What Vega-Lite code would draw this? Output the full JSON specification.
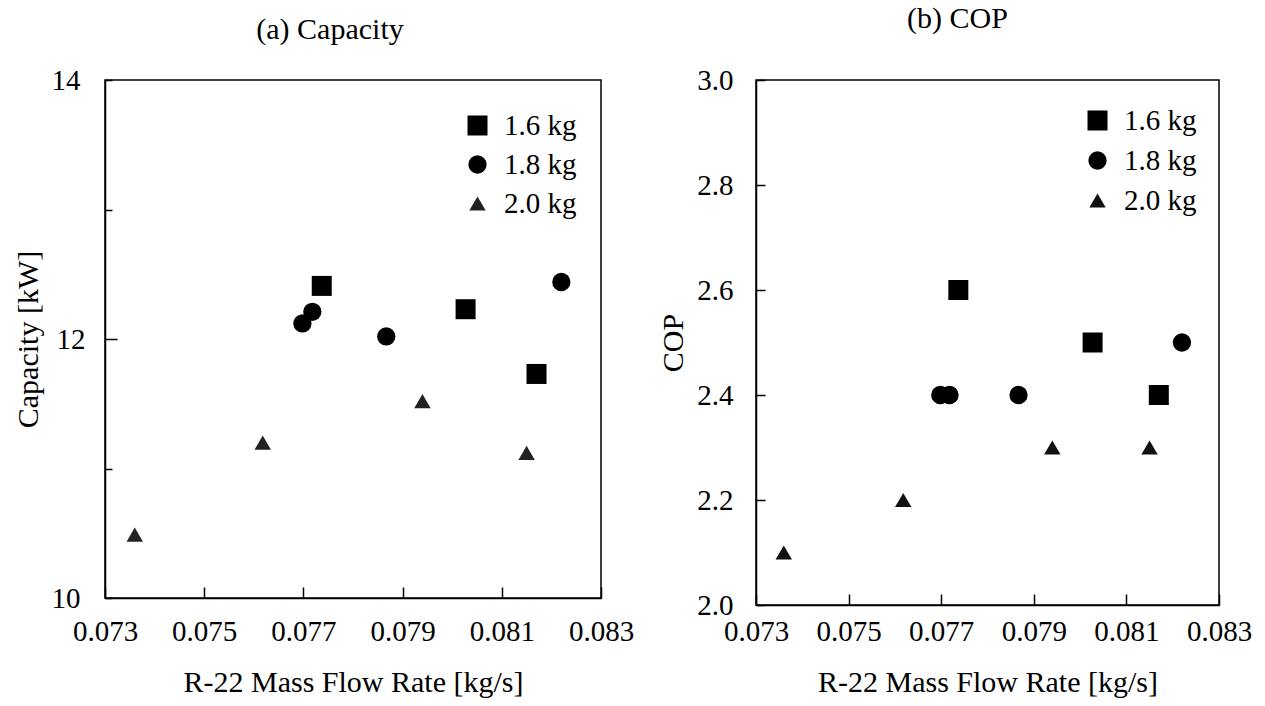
{
  "$schema": "https://vega.github.io/schema/vega-lite/v6.json",
  "padding": {"left": 12, "top": 3, "right": 5, "bottom": 5},
  "background": "white",
  "config": {
    "font": "Liberation Serif",
    "view": {"stroke": "black", "strokeWidth": 1.5},
    "axis": {
      "domainColor": "black", "domainWidth": 1.5,
      "tickColor": "black", "tickWidth": 1.5, "tickSize": -11,
      "labelColor": "black", "titleColor": "black",
      "labelFont": "Liberation Serif", "titleFont": "Liberation Serif",
      "labelFontSize": 29, "titleFontSize": 30, "titleFontWeight": "normal",
      "grid": false, "labelFlush": false, "labelOverlap": false
    },
    "title": {"font": "Liberation Serif", "fontSize": 30, "fontWeight": "normal", "color": "black", "frame": "group"},
    "legend": {
      "labelFont": "Liberation Serif", "labelFontSize": 29, "labelColor": "black",
      "labelOffset": 12, "symbolStrokeWidth": 0, "title": null
    }
  },
  "datasets": {
    "d": [
      {"charge": "1.6 kg", "flow": 0.07737, "capacity": 12.41, "cop": 2.6},
      {"charge": "1.6 kg", "flow": 0.08027, "capacity": 12.23, "cop": 2.5},
      {"charge": "1.6 kg", "flow": 0.0817, "capacity": 11.73, "cop": 2.4},
      {"charge": "1.8 kg", "flow": 0.07698, "capacity": 12.12, "cop": 2.4},
      {"charge": "1.8 kg", "flow": 0.07718, "capacity": 12.21, "cop": 2.4},
      {"charge": "1.8 kg", "flow": 0.07867, "capacity": 12.02, "cop": 2.4},
      {"charge": "1.8 kg", "flow": 0.0822, "capacity": 12.44, "cop": 2.5},
      {"charge": "2.0 kg", "flow": 0.0736, "capacity": 10.49, "cop": 2.1},
      {"charge": "2.0 kg", "flow": 0.07618, "capacity": 11.2, "cop": 2.2},
      {"charge": "2.0 kg", "flow": 0.0794, "capacity": 11.52, "cop": 2.3},
      {"charge": "2.0 kg", "flow": 0.0815, "capacity": 11.12, "cop": 2.3}
    ]
  },
  "spacing": 23,
  "resolve": {"scale": {"color": "independent", "shape": "independent", "size": "independent"}},
  "hconcat": [
    {
      "width": 496, "height": 518,
      "title": {"text": "(a) Capacity", "dx": -23, "offset": 21},
      "data": {"name": "d"},
      "mark": {"type": "point", "filled": true, "opacity": 1, "strokeWidth": 0},
      "encoding": {
        "x": {"field": "flow", "type": "quantitative",
          "scale": {"domain": [0.073, 0.083], "nice": false, "zero": false},
          "axis": {"values": [0.073, 0.075, 0.077, 0.079, 0.081, 0.083], "format": ".3f", "title": "R-22 Mass Flow Rate [kg/s]", "labelPadding": 30, "titlePadding": 21}},
        "y": {"field": "capacity", "type": "quantitative",
          "scale": {"domain": [10, 14], "nice": false, "zero": false},
          "axis": {"values": [10, 11, 12, 13, 14], "labelExpr": "datum.value % 2 === 0 ? datum.label : ''", "title": "Capacity [kW]", "labelPadding": 32, "titlePadding": 8,
            "tickSize": {"condition": {"test": "datum.value === 12", "value": -12}, "value": -7}}},
        "shape": {"field": "charge", "type": "nominal",
          "scale": {"domain": ["1.6 kg", "1.8 kg", "2.0 kg"], "range": ["square", "circle", "triangle-up"]},
          "legend": {"orient": "none", "legendX": 358, "legendY": 31, "rowPadding": 9}},
        "color": {"field": "charge", "type": "nominal",
          "scale": {"domain": ["1.6 kg", "1.8 kg", "2.0 kg"], "range": ["#000000", "#000000", "#222222"]},
          "legend": {"orient": "none", "legendX": 358, "legendY": 31, "rowPadding": 9}},
        "size": {"field": "charge", "type": "nominal",
          "scale": {"domain": ["1.6 kg", "1.8 kg", "2.0 kg"], "range": [400, 270, 300]},
          "legend": {"orient": "none", "legendX": 358, "legendY": 31, "rowPadding": 9}}
      }
    },
    {
      "width": 463, "height": 525,
      "title": {"text": "(b) COP", "dx": -30, "offset": 32},
      "data": {"name": "d"},
      "mark": {"type": "point", "filled": true, "opacity": 1, "strokeWidth": 0},
      "encoding": {
        "x": {"field": "flow", "type": "quantitative",
          "scale": {"domain": [0.073, 0.083], "nice": false, "zero": false},
          "axis": {"values": [0.073, 0.075, 0.077, 0.079, 0.081, 0.083], "format": ".3f", "title": "R-22 Mass Flow Rate [kg/s]", "labelPadding": 23, "titlePadding": 21}},
        "y": {"field": "cop", "type": "quantitative",
          "scale": {"domain": [2, 3], "nice": false, "zero": false},
          "axis": {"values": [2.0, 2.2, 2.4, 2.6, 2.8, 3.0], "format": ".1f", "title": "COP", "labelPadding": 32, "titlePadding": 8, "tickSize": -9}},
        "shape": {"field": "charge", "type": "nominal",
          "scale": {"domain": ["1.6 kg", "1.8 kg", "2.0 kg"], "range": ["square", "circle", "triangle-up"]},
          "legend": {"orient": "none", "legendX": 327, "legendY": 26, "rowPadding": 10}},
        "color": {"field": "charge", "type": "nominal",
          "scale": {"domain": ["1.6 kg", "1.8 kg", "2.0 kg"], "range": ["#000000", "#000000", "#111111"]},
          "legend": {"orient": "none", "legendX": 327, "legendY": 26, "rowPadding": 10}},
        "size": {"field": "charge", "type": "nominal",
          "scale": {"domain": ["1.6 kg", "1.8 kg", "2.0 kg"], "range": [400, 270, 300]},
          "legend": {"orient": "none", "legendX": 327, "legendY": 26, "rowPadding": 10}}
      }
    }
  ]
}
